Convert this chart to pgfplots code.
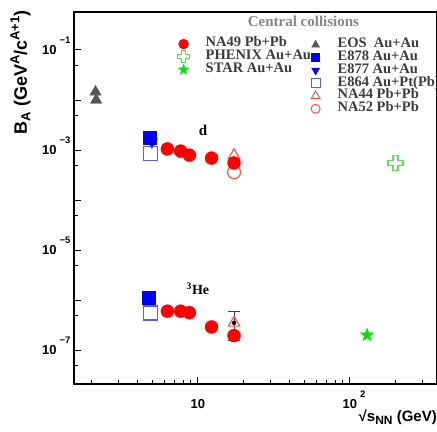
\documentclass[border=0pt]{standalone}
\usepackage{fontspec}
\setmainfont{Liberation Serif}
\setsansfont{Liberation Sans}
\usepackage{pgfplots}
\pgfplotsset{compat=1.18}
\usetikzlibrary{plotmarks}

\definecolor{eosgray}{RGB}{85,85,85}
\definecolor{opblue}{RGB}{90,90,255}
\definecolor{opred}{RGB}{255,80,80}
\definecolor{stargreen}{RGB}{0,230,0}
\definecolor{crossgreen}{RGB}{90,225,90}
\definecolor{legtext}{RGB}{60,60,60}
\definecolor{titlegray}{RGB}{135,135,135}

% open "plus" outline (PHENIX)
\pgfdeclareplotmark{opencross}{%
  \pgfpathmoveto{\pgfpoint{-0.33\pgfplotmarksize}{\pgfplotmarksize}}%
  \pgfpathlineto{\pgfpoint{0.33\pgfplotmarksize}{\pgfplotmarksize}}%
  \pgfpathlineto{\pgfpoint{0.33\pgfplotmarksize}{0.33\pgfplotmarksize}}%
  \pgfpathlineto{\pgfpoint{\pgfplotmarksize}{0.33\pgfplotmarksize}}%
  \pgfpathlineto{\pgfpoint{\pgfplotmarksize}{-0.33\pgfplotmarksize}}%
  \pgfpathlineto{\pgfpoint{0.33\pgfplotmarksize}{-0.33\pgfplotmarksize}}%
  \pgfpathlineto{\pgfpoint{0.33\pgfplotmarksize}{-\pgfplotmarksize}}%
  \pgfpathlineto{\pgfpoint{-0.33\pgfplotmarksize}{-\pgfplotmarksize}}%
  \pgfpathlineto{\pgfpoint{-0.33\pgfplotmarksize}{-0.33\pgfplotmarksize}}%
  \pgfpathlineto{\pgfpoint{-\pgfplotmarksize}{-0.33\pgfplotmarksize}}%
  \pgfpathlineto{\pgfpoint{-\pgfplotmarksize}{0.33\pgfplotmarksize}}%
  \pgfpathlineto{\pgfpoint{-0.33\pgfplotmarksize}{0.33\pgfplotmarksize}}%
  \pgfpathclose
  \pgfusepathqstroke
}
% filled five-point star (STAR)
\pgfdeclareplotmark{fstar}{%
  \pgfpathmoveto{\pgfpointpolar{90}{\pgfplotmarksize}}%
  \pgfpathlineto{\pgfpointpolar{126}{0.4\pgfplotmarksize}}%
  \pgfpathlineto{\pgfpointpolar{162}{\pgfplotmarksize}}%
  \pgfpathlineto{\pgfpointpolar{198}{0.4\pgfplotmarksize}}%
  \pgfpathlineto{\pgfpointpolar{234}{\pgfplotmarksize}}%
  \pgfpathlineto{\pgfpointpolar{270}{0.4\pgfplotmarksize}}%
  \pgfpathlineto{\pgfpointpolar{306}{\pgfplotmarksize}}%
  \pgfpathlineto{\pgfpointpolar{342}{0.4\pgfplotmarksize}}%
  \pgfpathlineto{\pgfpointpolar{18}{\pgfplotmarksize}}%
  \pgfpathlineto{\pgfpointpolar{54}{0.4\pgfplotmarksize}}%
  \pgfpathclose
  \pgfusepathqfillstroke
}

\newcommand{\ylab}[1]{10\hspace{3bp}\raisebox{11bp}{\fontsize{9.5bp}{10bp}\selectfont #1}}
\newcommand{\lsub}[1]{\raisebox{-3.5bp}{\fontsize{13bp}{13bp}\selectfont #1}}
\newcommand{\lsup}[1]{\raisebox{7.5bp}{\fontsize{13bp}{13bp}\selectfont #1}}

\pgfplotsset{
  frame/.style={scale only axis, width=363bp, height=372bp, at={(0,0)}, anchor=south west},
  legfont/.style={
    legend cell align=left,
    legend image code/.code={\path (-7bp,0bp) (21bp,0bp); \draw[##1] plot coordinates {(0bp,0bp)};},
    legend style={draw=none, fill=none, inner sep=0pt, outer sep=0pt, row sep=0pt,
      font=\bfseries\fontsize{14.5bp}{14.5bp}\selectfont,
      nodes={inner sep=0.5bp, text height=8.8bp, text depth=3bp, text=legtext}},
  },
}

\begin{document}
\begin{tikzpicture}
\begin{axis}[
  frame, legfont,
  xmode=log, ymode=log,
  xmin=1.53, xmax=375, ymin=2.1e-8, ymax=0.575,
  axis line style={line width=1.6bp},
  tick pos=left, tick align=inside,
  major tick length=7bp, minor tick length=4bp,
  tick style={black, line width=1bp},
  xtick={10,100},
  xticklabels={10, 10\rlap{\hspace{3bp}\raisebox{11bp}{\fontsize{9.5bp}{10bp}\selectfont 2}}},
  minor xtick={2,3,4,5,6,7,8,9,20,30,40,50,60,70,80,90,200,300},
  ytick={1e-1,1e-2,1e-3,1e-4,1e-5,1e-6,1e-7},
  yticklabels={\ylab{−1},,\ylab{−3},,\ylab{−5},,\ylab{−7}},
  minor ytick={5e-2,5e-3,5e-4,5e-5,5e-6,5e-7,5e-8},
  ticklabel style={font=\sffamily\bfseries\fontsize{13bp}{15bp}\selectfont},
  xticklabel style={anchor=base, yshift=-24.2bp},
  yticklabel style={anchor=base east, yshift=-4.6bp},
  xlabel={√s{\fontsize{12bp}{12bp}\selectfont\raisebox{-3bp}{NN}} (GeV)},
  xlabel style={at={(axis description cs:1,0)}, anchor=base east, yshift=-37bp, inner sep=0pt,
    font=\sffamily\bfseries\fontsize{15bp}{17bp}\selectfont},
  ylabel={B\lsub{A} (GeV\lsup{A}/c\lsup{A+1})},
  ylabel style={at={(axis description cs:-0.1295,1.0054)}, anchor=base east, inner sep=0pt,
    font=\sffamily\bfseries\fontsize{18bp}{20bp}\selectfont},
  legend style={at={(rel axis cs:0.281,0.931)}, anchor=north west},
]
% left legend column
\addlegendimage{only marks, mark=*, color=red, mark size=5bp}
\addlegendentry{NA49 Pb+Pb}
\addlegendimage{only marks, mark=opencross, color=crossgreen, mark size=6bp, line width=1.2bp}
\addlegendentry{PHENIX Au+Au}
\addlegendimage{only marks, mark=fstar, color=stargreen, mark size=5.5bp}
\addlegendentry{STAR Au+Au}

% EOS
\addplot[only marks, mark=triangle*, color=eosgray, mark size=6.5bp] coordinates {(2.12,1.45e-2) (2.14,1.0e-2)};
% E877
\addplot[only marks, mark=triangle*, color=blue, mark size=6.5bp, mark options={rotate=180}] coordinates {(4.98,1.45e-3)};
% E878
\addplot[only marks, mark=square*, color=blue, mark size=6.5bp] coordinates {(4.8,1.78e-3) (4.77,1.1e-6)};
% E864
\addplot[only marks, mark=square, color=opblue, mark size=7bp, line width=1.2bp] coordinates {(4.86,8.5e-4) (4.86,5.5e-7)};
% NA44
\addplot[only marks, mark=triangle, color=opred, mark size=6.5bp, line width=1.2bp] coordinates {(17.3,7.9e-4) (17.3,3.5e-7)};
% NA52
\addplot[only marks, mark=o, color=opred, mark size=6.5bp, line width=1.2bp] coordinates {(17.3,3.6e-4)};
% NA49
\addplot[only marks, mark=*, color=red, mark size=6.5bp] coordinates {
  (6.3,1.05e-3) (7.7,9.5e-4) (8.8,7.9e-4) (12.3,6.9e-4) (17.3,5.5e-4)
  (6.3,6.0e-7) (7.7,6.0e-7) (8.8,5.6e-7) (12.3,2.9e-7) (17.3,1.95e-7)
};
% NA44 3He error bar
\addplot[only marks, mark=none,
  error bars/.cd, y dir=both, y explicit,
  error bar style={line width=1bp, color=black!75},
  error mark options={rotate=90, mark size=6bp, line width=1bp, color=black!75}]
  coordinates {(17.3,3.5e-7) += (0,2.4e-7) -= (0,1.92e-7)};
% PHENIX
\addplot[only marks, mark=opencross, color=crossgreen, mark size=7.5bp, line width=1.2bp] coordinates {(200,5.5e-4)};
% STAR
\addplot[only marks, mark=fstar, color=stargreen, mark size=7bp] coordinates {(130,2.0e-7)};

\node[font=\bfseries\fontsize{15bp}{17bp}\selectfont, text=titlegray] at (rel axis cs:0.632,0.976) {Central collisions};
\node[font=\bfseries\fontsize{15bp}{17bp}\selectfont] at (axis cs:10.8,2.5e-3) {d};
\node[font=\bfseries\fontsize{14bp}{16bp}\selectfont] at (axis cs:10,1.66e-6) {\textsuperscript{3}He};
\end{axis}

% right legend column
\begin{axis}[
  frame, legfont, hide axis,
  xmin=0, xmax=1, ymin=0, ymax=1,
  legend style={at={(rel axis cs:0.645,0.929)}, anchor=north west},
]
\addlegendimage{only marks, mark=triangle*, color=eosgray, mark size=4.5bp}
\addlegendentry{EOS\ \ Au+Au}
\addlegendimage{only marks, mark=square*, color=blue, mark size=4bp}
\addlegendentry{E878 Au+Au}
\addlegendimage{only marks, mark=triangle*, color=blue, mark size=4.6bp, mark options={rotate=180}}
\addlegendentry{E877 Au+Au}
\addlegendimage{only marks, mark=square, color=opblue, mark size=4.5bp, line width=1bp}
\addlegendentry{E864 Au+Pt(Pb)}
\addlegendimage{only marks, mark=triangle, color=opred, mark size=5bp, line width=1bp}
\addlegendentry{NA44 Pb+Pb}
\addlegendimage{only marks, mark=o, color=opred, mark size=4.5bp, line width=1bp}
\addlegendentry{NA52 Pb+Pb}
\end{axis}

\pgfresetboundingbox
\path (current axis.south west) ++(-74bp,-48bp) rectangle ++(437bp,432bp);
\end{tikzpicture}
\end{document}
